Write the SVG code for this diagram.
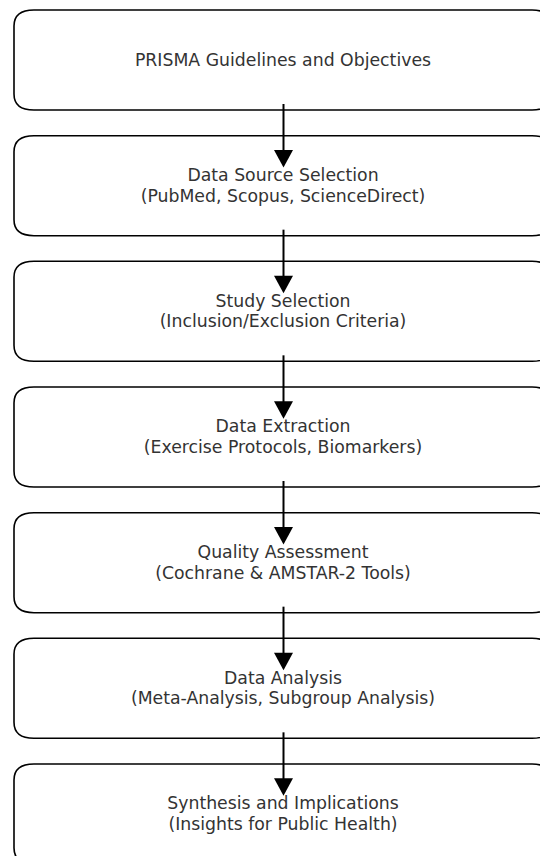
<svg xmlns="http://www.w3.org/2000/svg" width="540" height="856" viewBox="0 0 540 856">
  <defs>
    <style>
      .box { fill: #ffffff; stroke: #000000; stroke-width: 1.6; }
      .lbl { font-family: "DejaVu Sans", "Noto Sans", sans-serif; font-size: 17.3px; fill: #333333; text-anchor: middle; }
      .flow { stroke: #000000; stroke-width: 2; fill: none; }
      .head { fill: #000000; }
    </style>
    <!-- rounded process box, 538 x 100 -->
    <path id="stage" d="M34,0 H532 Q552,0 552,16 V84 Q552,100 532,100 H34 Q14,100 14,84 V16 Q14,0 34,0 Z"/>
  </defs>
  <rect width="540" height="856" fill="#ffffff"/>

  <g id="node-prisma">
    <use href="#stage" class="box" transform="translate(0,10)"/>
    <text class="lbl" x="283" y="66">PRISMA Guidelines and Objectives</text>
  </g>
  <g id="node-sources">
    <use href="#stage" class="box" transform="translate(0,135.7)"/>
    <text class="lbl" x="283" y="181">Data Source Selection</text>
    <text class="lbl" x="283" y="201.5">(PubMed, Scopus, ScienceDirect)</text>
  </g>
  <g id="node-selection">
    <use href="#stage" class="box" transform="translate(0,261.3)"/>
    <text class="lbl" x="283" y="306.6">Study Selection</text>
    <text class="lbl" x="283" y="327.1">(Inclusion/Exclusion Criteria)</text>
  </g>
  <g id="node-extraction">
    <use href="#stage" class="box" transform="translate(0,387)"/>
    <text class="lbl" x="283" y="432.3">Data Extraction</text>
    <text class="lbl" x="283" y="452.8">(Exercise Protocols, Biomarkers)</text>
  </g>
  <g id="node-quality">
    <use href="#stage" class="box" transform="translate(0,512.7)"/>
    <text class="lbl" x="283" y="558">Quality Assessment</text>
    <text class="lbl" x="283" y="578.5">(Cochrane &amp; AMSTAR-2 Tools)</text>
  </g>
  <g id="node-analysis">
    <use href="#stage" class="box" transform="translate(0,638.3)"/>
    <text class="lbl" x="283" y="683.6">Data Analysis</text>
    <text class="lbl" x="283" y="704.1">(Meta-Analysis, Subgroup Analysis)</text>
  </g>
  <g id="node-synthesis">
    <use href="#stage" class="box" transform="translate(0,764)"/>
    <text class="lbl" x="283" y="809.3">Synthesis and Implications</text>
    <text class="lbl" x="283" y="829.8">(Insights for Public Health)</text>
  </g>

  <g id="connectors">
    <g transform="translate(0,0)">
      <line class="flow" x1="283.5" y1="104" x2="283.5" y2="151"/>
      <polygon class="head" points="274,150 293,150 283.5,167.5"/>
    </g>
    <g transform="translate(0,125.67)">
      <line class="flow" x1="283.5" y1="104" x2="283.5" y2="151"/>
      <polygon class="head" points="274,150 293,150 283.5,167.5"/>
    </g>
    <g transform="translate(0,251.33)">
      <line class="flow" x1="283.5" y1="104" x2="283.5" y2="151"/>
      <polygon class="head" points="274,150 293,150 283.5,167.5"/>
    </g>
    <g transform="translate(0,377)">
      <line class="flow" x1="283.5" y1="104" x2="283.5" y2="151"/>
      <polygon class="head" points="274,150 293,150 283.5,167.5"/>
    </g>
    <g transform="translate(0,502.67)">
      <line class="flow" x1="283.5" y1="104" x2="283.5" y2="151"/>
      <polygon class="head" points="274,150 293,150 283.5,167.5"/>
    </g>
    <g transform="translate(0,628.33)">
      <line class="flow" x1="283.5" y1="104" x2="283.5" y2="151"/>
      <polygon class="head" points="274,150 293,150 283.5,167.5"/>
    </g>
  </g>
</svg>
